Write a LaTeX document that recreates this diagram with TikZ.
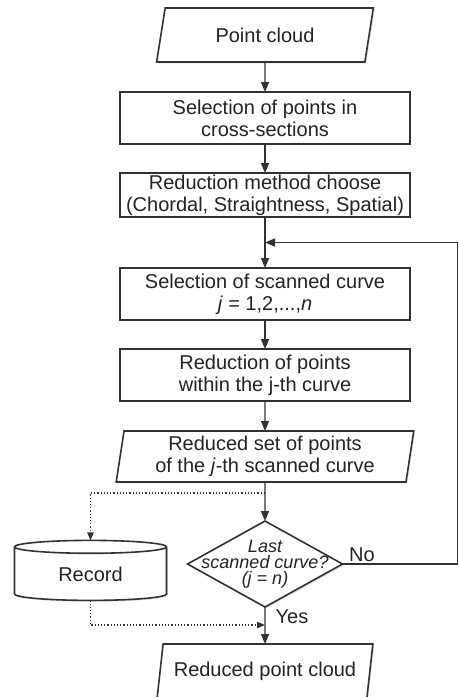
\documentclass[tikz,border=0pt]{standalone}
\usepackage{fontspec}
\setmainfont{Liberation Sans}
\usetikzlibrary{shapes.geometric, arrows.meta, positioning, calc, shadows}
\definecolor{cLine}{RGB}{50,50,50}
\definecolor{cText}{RGB}{35,35,35}
\tikzset{
	boxshadow/.style={drop shadow={shadow xshift=0.7pt, shadow yshift=-0.7pt, fill=black!30, opacity=0.4}},
	io/.style       ={trapezium, trapezium left angle=74, trapezium right angle=106, trapezium stretches=true, minimum width=108.5pt, minimum height=27pt, inner sep=0pt, outer sep=0pt, align=center, draw=cLine, line width=0.8pt, fill=white, boxshadow},
	process/.style  ={rectangle, minimum width=145pt, minimum height=26pt, inner sep=0pt, outer sep=0pt, align=center, draw=cLine, line width=0.8pt, fill=white, boxshadow},
	decision/.style ={diamond, minimum width=77.5pt, minimum height=43pt, inner sep=0pt, outer sep=0pt, draw=cLine, line width=0.8pt, fill=white, boxshadow},
	dtext/.style    ={font=\itshape\fontsize{9}{8}\selectfont, align=center, inner sep=0pt},
	store/.style    ={cylinder, shape border rotate=90, shape aspect=0.2, minimum width=76pt, minimum height=30pt, inner sep=0pt, outer sep=0pt, draw=cLine, line width=0.8pt, fill=white, boxshadow},
	flowarrow/.style={-{Triangle[length=5pt, width=4pt]}, line width=0.7pt, cLine},
	dotarrow/.style ={-{Triangle[length=4pt, width=3.2pt]}, densely dotted, line width=0.6pt, cLine},
}
\begin{document}
\begin{tikzpicture}[every node/.style={font=\fontsize{10}{11}\selectfont, text=cText}]
	\useasboundingbox (0,0) rectangle (229.5pt,-348.5pt);
	\clip (0,0) rectangle (229.5pt,-348.5pt);
	% main column
	\node[io] (cloud) at (132.5pt,-17.5pt) {Point cloud};
	\node[process, below=15pt of cloud] (sel) {Selection of points in\\ cross-sections};
	\node[process, below=14.5pt of sel, minimum height=22pt] (meth) {Reduction method choose\\ (Chordal, Straightness, Spatial)};
	\node[process, below=25.5pt of meth] (curve) {Selection of scanned curve\\ \textit{j} = 1,2,...,\textit{n}};
	\node[process, below=14.5pt of curve] (red) {Reduction of points\\ within the j-th curve};
	\node[io, below=15pt of red, trapezium left angle=81.5, trapezium right angle=98.5, minimum width=149pt, minimum height=25.5pt] (rset) {Reduced set of points\\ of the \textit{j}-th scanned curve};
	\node[decision, below=19.5pt of rset] (last) {};
	\node[dtext] (lastt) at (last) {Last\\ scanned curve?\\ (j = n)};
	\node[store, left=10.5pt of last, yshift=-5pt] (rec) {Record};
	\node[io, below=18.5pt of last] (final) {Reduced point cloud};
	% helper points
	\coordinate (back) at ($(meth.south)!0.5!(curve.north)$);
	\coordinate (tap) at ($(rset.south)+(0,-5.5pt)$);
	\coordinate (merge) at ($(last.south)+(0,-9pt)$);
	\coordinate (edge) at ($(last.east)+(57.5pt,0)$);
	% connectors
	\draw[flowarrow] (cloud) -- (sel);
	\draw[flowarrow] (sel) -- (meth);
	\draw[flowarrow] (meth) -- (curve);
	\draw[flowarrow] (curve) -- (red);
	\draw[flowarrow] (red) -- (rset);
	\draw[flowarrow] (rset) -- (last);
	\draw[flowarrow] (last) -- node[pos=0, anchor=north west, inner sep=1pt, xshift=4pt]{Yes} (final);
	\draw[flowarrow] (last.east) -- node[pos=0, anchor=south west, inner sep=1pt, xshift=2pt]{No} (edge) |- (back);
	\draw[dotarrow] (tap) -| (rec.north);
	\draw[dotarrow] (rec.south) |- (merge);
\end{tikzpicture}
\end{document}
